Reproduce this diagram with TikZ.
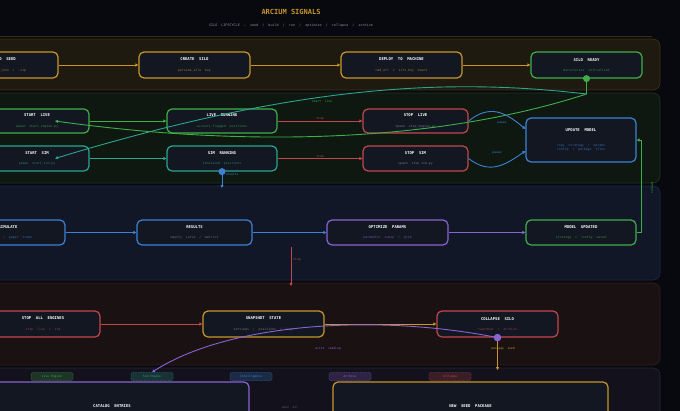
\documentclass[tikz,border=0pt]{standalone}
\usepackage{fontspec}
\setmonofont{DejaVu Sans Mono}
\usetikzlibrary{arrows.meta,calc}
\definecolor{pagebg}{HTML}{07090E}
\definecolor{nodebg}{HTML}{131722}
\definecolor{cgold}{HTML}{C9962A}
\definecolor{cgreen}{HTML}{3FAE4A}
\definecolor{cteal}{HTML}{2AA58F}
\definecolor{cred}{HTML}{C0474C}
\definecolor{cblue}{HTML}{3B82D6}
\definecolor{cpurple}{HTML}{8A63D2}
\definecolor{cgray}{HTML}{8A8F9A}
\definecolor{laneA}{HTML}{1E1A0F}\definecolor{laneAb}{HTML}{3B3216}
\definecolor{laneB}{HTML}{0E1810}\definecolor{laneBb}{HTML}{1E3520}
\definecolor{laneC}{HTML}{111726}\definecolor{laneCb}{HTML}{1D2A44}
\definecolor{laneD}{HTML}{1A1112}\definecolor{laneDb}{HTML}{3A1A1C}
\definecolor{laneE}{HTML}{13121C}\definecolor{laneEb}{HTML}{2A2440}
\newcommand\mytitle[1]{{\fontsize{3.9}{4.5}\selectfont\bfseries\color{white}#1}}
\newcommand\mysub[2]{{\fontsize{3.2}{4}\selectfont\color{#1!75!nodebg}#2}}
\tikzset{
  x=1pt,y=-1pt,
  box/.style={draw=#1, line width=1.2pt, rounded corners=5pt, fill=nodebg, align=center, inner sep=0pt, font=\ttfamily\fontsize{3.5}{4.5}\selectfont},
  edge/.style={draw=#1, line width=0.9pt, -{Triangle[length=3pt,width=3pt]}},
  elabel/.style={font=\ttfamily\fontsize{3}{3.5}\selectfont, text=#1, inner sep=0.5pt},
  tagbox/.style={draw=#1!55!laneE, fill=#1!22!laneE, dashed, dash pattern=on 1pt off 0.6pt, line width=0.5pt, rounded corners=2pt, minimum width=42pt, minimum height=8pt, inner sep=0pt, font=\ttfamily\fontsize{3}{3.5}\selectfont, text=#1},
}
\begin{document}
\begin{tikzpicture}
\useasboundingbox (0,0) rectangle (680,410);
\fill[pagebg] (-10,-10) rectangle (690,420);
% title
\node[font=\ttfamily\bfseries\fontsize{7}{8}\selectfont, text=cgold] (title) at (291,12) {ARCIUM~SIGNALS};
\node[font=\ttfamily\fontsize{3.4}{4}\selectfont, text=cgray] (subtitle) at (291,26) {SILO~~LIFECYCLE~~—~~seed~~/~~build~~/~~run~~/~~optimize~~/~~collapse~~/~~archive};
\draw[laneAb, line width=0.6pt] (0,36) -- (652,36);
% lanes
\draw[fill=laneA, draw=laneAb, line width=0.6pt, rounded corners=7pt] (-10,39) rectangle (660,90);
\draw[fill=laneB, draw=laneBb, line width=0.6pt, rounded corners=7pt] (-10,93) rectangle (660,183);
\draw[fill=laneC, draw=laneCb, line width=0.6pt, rounded corners=7pt] (-10,186) rectangle (660,280);
\draw[fill=laneD, draw=laneDb, line width=0.6pt, rounded corners=7pt] (-10,283) rectangle (660,365);
\draw[fill=laneE, draw=laneEb, line width=0.6pt, rounded corners=7pt] (-10,368) rectangle (660,430);

% lane 1
\node[box=cgold, minimum width=108pt, minimum height=26pt] (seed) at (4,65) {\mytitle{FIND~~SEED}\\[6pt]\mysub{cgold}{.csv~~/~~.json~~/~~.zip}};
\node[box=cgold, minimum width=111pt, minimum height=26pt] (create) at (194.5,65) {\mytitle{CREATE~~SILO}\\[6pt]\mysub{cgold}{persona\_silo~~key}};
\node[box=cgold, minimum width=121pt, minimum height=26pt] (deploy) at (401.5,65) {\mytitle{DEPLOY~~TO~~MACHINE}\\[6pt]\mysub{cgold}{cmd\_url~~+~~silo\_key~~mount}};
\node[box=cgreen, minimum width=111pt, minimum height=26pt] (ready) at (586.5,65) {\mytitle{SILO~~READY}\\[6pt]\mysub{cgreen}{directories~~initialized}};

% lane 2
\node[box=cgreen, minimum width=104pt, minimum height=24pt] (startlive) at (37,121) {\mytitle{START~~LIVE}\\[6pt]\mysub{cgreen}{spawn~~start\_engine.py}};
\node[box=cteal, minimum width=104pt, minimum height=25pt] (startsim) at (37,158.5) {\mytitle{START~~SIM}\\[6pt]\mysub{cteal}{spawn~~start\_sim.py}};
\node[box=cgreen, minimum width=110pt, minimum height=24pt] (liverun) at (222,121) {\mytitle{LIVE~~RUNNING}\\[6pt]\mysub{cgreen}{account-flagged~~positions}};
\node[box=cteal, minimum width=110pt, minimum height=25pt] (simrun) at (222,158.5) {\mytitle{SIM~~RUNNING}\\[6pt]\mysub{cteal}{simulated~~positions}};
\node[box=cred, minimum width=105pt, minimum height=24pt] (stoplive) at (415.5,121) {\mytitle{STOP~~LIVE}\\[6pt]\mysub{cgray}{spawn~~stop\_engine.py}};
\node[box=cred, minimum width=105pt, minimum height=25pt] (stopsim) at (415.5,158.5) {\mytitle{STOP~~SIM}\\[6pt]\mysub{cgray}{spawn~~stop\_sim.py}};
\node[box=cblue, minimum width=110pt, minimum height=44pt] (update) at (581,140) {\mytitle{UPDATE~~MODEL}\\[10.5pt]\mysub{cblue}{copy~~strategy~~/~~params}\\[-0.3pt]\mysub{cblue}{config~~+~~package~~files}};

% lane 3
\node[box=cblue, minimum width=114pt, minimum height=25pt] (simulate) at (8,232.5) {\mytitle{SIMULATE}\\[6pt]\mysub{cblue}{backtest~~/~~paper~~trade}};
\node[box=cblue, minimum width=115pt, minimum height=25pt] (results) at (194.5,232.5) {\mytitle{RESULTS}\\[6pt]\mysub{cgray}{equity~~curve~~/~~metrics}};
\node[box=cpurple, minimum width=121pt, minimum height=25pt] (optimize) at (387.5,232.5) {\mytitle{OPTIMIZE~~PARAMS}\\[6pt]\mysub{cpurple}{parameter~~sweep~~/~~grid}};
\node[box=cgreen, minimum width=110pt, minimum height=25pt] (modelupd) at (581,232.5) {\mytitle{MODEL~~UPDATED}\\[6pt]\mysub{cgreen}{strategy~~+~~config~~saved}};

% lane 4
\node[box=cred, minimum width=114pt, minimum height=26pt] (stopall) at (43,324) {\mytitle{STOP~~ALL~~ENGINES}\\[6pt]\mysub{cred}{stop~~live~~+~~sim}};
\node[box=cgold, minimum width=121pt, minimum height=26pt] (snapshot) at (263.5,324) {\mytitle{SNAPSHOT~~STATE}\\[6pt]\mysub{cgray}{settings~~/~~positions~~/~~logs}};
\node[box=cred, minimum width=121pt, minimum height=26pt] (collapse) at (497.5,324) {\mytitle{COLLAPSE~~SILO}\\[6pt]\mysub{cred}{teardown~~+~~archive}};

% lane 5 tags
\node[tagbox=cgreen] (tlive) at (52,376.5) {Live Engine};
\node[tagbox=cteal] (tsim) at (152,376.5) {Sim Engine};
\node[tagbox=cblue] (tintel) at (251,376.5) {Intelligence};
\node[tagbox=cpurple] (tarch) at (350,376.5) {Archive};
\node[tagbox=cred] (tcoll) at (450,376.5) {Collapse};
\node[box=cpurple, minimum width=274pt, minimum height=48pt] (catalog) at (112,406) {\mytitle{CATALOG~~ENTRIES}};
\node[box=cgold, minimum width=275pt, minimum height=48pt] (newseed) at (470.5,406) {\mytitle{NEW~~SEED~~PACKAGE}};
\node[elabel=cgray!60!laneE] (opendir) at (290,408) {open~~dir};

% lane 1 edges
\draw[edge=cgold] (seed.east) -- (create.west);
\draw[edge=cgold] (create.east) -- (deploy.west);
\draw[edge=cgold] (deploy.east) -- (ready.west);

% ready fork
\coordinate (fork) at (586.5,94);
\coordinate (livein) at (55,121);
\coordinate (simin) at (55,158.5);
\draw[cgreen, line width=0.9pt] (ready.south) -- (fork);
\draw[edge=cteal] (fork) .. controls (450,78) and (300,84) .. (simin);
\draw[edge=cgreen] (fork) .. controls (460,135) and (280,152) .. (livein);
\fill[cgreen] (ready.south) circle (3.5pt);
\node[elabel=cgreen] (lstartlive) at (322,101) {start~~live};

% lane 2 edges
\draw[edge=cgreen] (startlive.east) -- (liverun.west);
\draw[edge=cteal] (startsim.east) -- (simrun.west);
\draw[edge=cred] (liverun.east) -- node[elabel=cred, above=-0.3pt] {stop} (stoplive.west);
\draw[edge=cred] (simrun.east) -- node[elabel=cred, above=-0.3pt] {stop} (stopsim.west);
\draw[edge=cblue] (stoplive.east) .. controls (490,104) and (505,112) .. ($(update.west)+(0,-11)$);
\draw[edge=cblue] (stopsim.east) .. controls (490,175) and (505,165) .. ($(update.west)+(0,11)$);
\node[elabel=cblue] (lpause1) at (502,123) {pause};
\node[elabel=cblue] (lpause2) at (497,153) {pause};
\coordinate (resout) at (222,188);
\draw[edge=cblue] (simrun.south) -- (resout);
\fill[cblue] (simrun.south) circle (3.5pt);
\node[elabel=cblue] (lresults) at (232,174) {results};
\draw[edge=cgreen] (modelupd.east) -- ++(5,0) |- (update.east);
\node[elabel=cgreen, rotate=90] (lreload) at (652,188) {reload};

% lane 3 edges
\draw[edge=cblue] (simulate.east) -- (results.west);
\draw[edge=cblue] (results.east) -- (optimize.west);
\draw[edge=cpurple] (optimize.east) -- (modelupd.west);
\coordinate (stopfrom) at (291,247);
\coordinate (stopto) at (291,286);
\draw[edge=cred] (stopfrom) -- (stopto);
\node[elabel=cred] (lstop) at (297,260) {stop};

% lane 4 edges
\draw[edge=cred] (stopall.east) -- (snapshot.west);
\draw[edge=cgold] (snapshot.east) -- (collapse.west);
\coordinate (seedin) at (497.5,370);
\draw[edge=cpurple] (collapse.south) .. controls (380,314) and (230,322) .. (tsim.north);
\draw[edge=cgold] (collapse.south) -- (seedin);
\fill[cpurple] (collapse.south) circle (3.8pt);
\node[elabel=cpurple] (lwrite) at (328,349) {write~~catalog};
\node[elabel=cgold] (lpack) at (503,349) {package~~seed};
\end{tikzpicture}
\end{document}
